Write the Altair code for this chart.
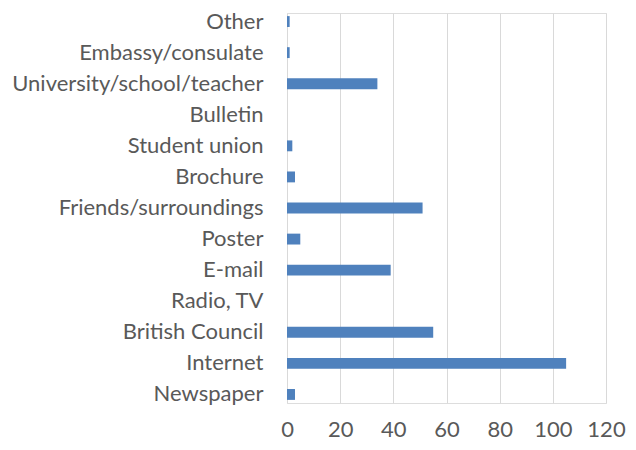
import altair as alt
import pandas as pd

categories = ["Other", "Embassy/consulate", "University/school/teacher", "Bulletin",
              "Student union", "Brochure", "Friends/surroundings", "Poster", "E-mail",
              "Radio, TV", "British Council", "Internet", "Newspaper"]
values = [1, 1, 34, 0, 2, 3, 51, 5, 39, 0, 55, 105, 3]
x_ticks = [0, 20, 40, 60, 80, 100, 120]

df = pd.DataFrame({"category": categories, "value": values})

FONT = "Lato"
GREY = "#595959"

chart = alt.Chart(df).mark_bar(color="#4F81BD").encode(
    x=alt.X("value:Q",
            scale=alt.Scale(domain=[0, 120], nice=False),
            axis=alt.Axis(values=x_ticks, title=None, ticks=False, domain=False,
                          grid=True, gridColor="#D9D9D9", gridWidth=1,
                          labelFont=FONT, labelFontSize=22, labelColor=GREY,
                          labelFlush=False, labelPadding=16)),
    y=alt.Y("category:N", sort=categories,
            scale=alt.Scale(paddingInner=0.65, paddingOuter=0.1),
            axis=alt.Axis(title=None, ticks=False, domain=False, grid=False,
                          labelFont=FONT, labelFontSize=22, labelColor=GREY,
                          labelPadding=24, labelLimit=400)),
).properties(
    width=319, height=390,
    autosize=alt.AutoSizeParams(type="none"),
    padding={"left": 279, "top": 5, "right": 20, "bottom": 39}
).configure_view(stroke=None).configure(background="white")

chart.save("out.html", embed_options={"renderer": "svg", "actions": False})
